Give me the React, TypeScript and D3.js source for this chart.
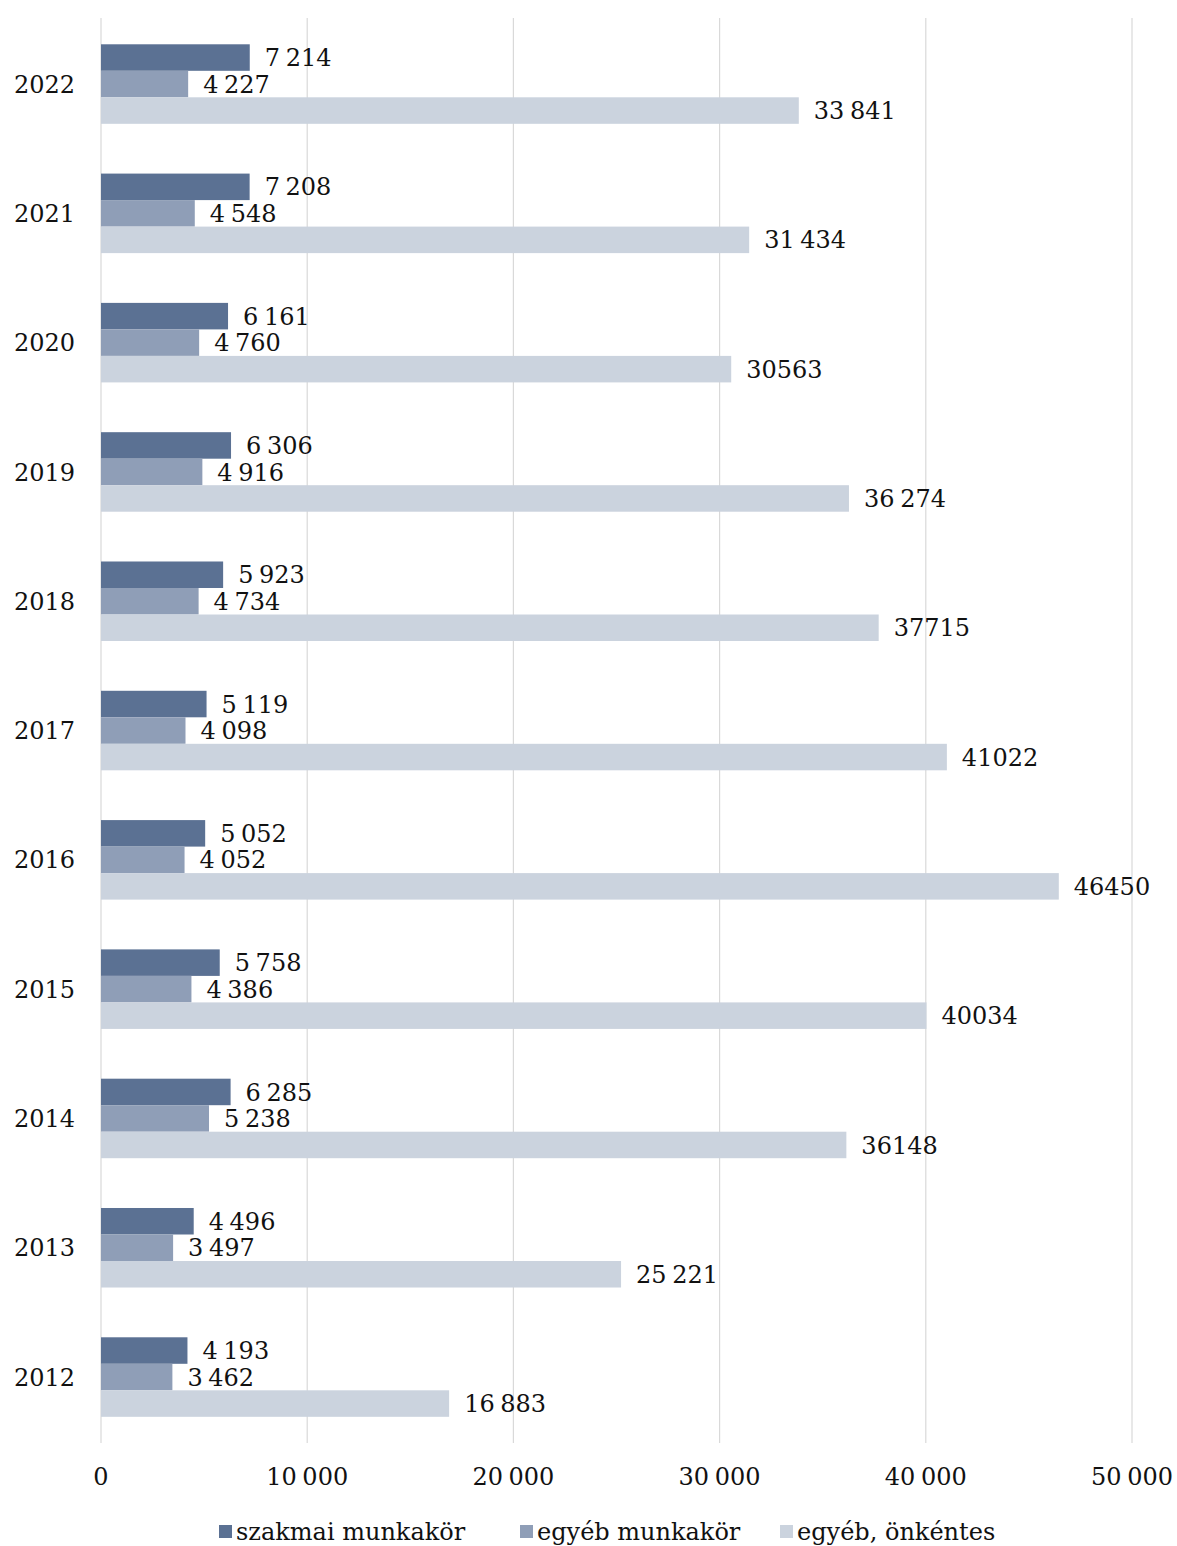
import React from "react";
import * as d3 from "d3";

const years = ["2022", "2021", "2020", "2019", "2018", "2017", "2016", "2015", "2014", "2013", "2012"];
const seriesNames = ["szakmai munkakör", "egyéb munkakör", "egyéb, önkéntes"];
const szakmai = [7214, 7208, 6161, 6306, 5923, 5119, 5052, 5758, 6285, 4496, 4193];
const egyeb = [4227, 4548, 4760, 4916, 4734, 4098, 4052, 4386, 5238, 3497, 3462];
const onkentes = [33841, 31434, 30563, 36274, 37715, 41022, 46450, 40034, 36148, 25221, 16883];
const szakmaiLabels = ["7 214", "7 208", "6 161", "6 306", "5 923", "5 119", "5 052", "5 758", "6 285", "4 496", "4 193"];
const egyebLabels = ["4 227", "4 548", "4 760", "4 916", "4 734", "4 098", "4 052", "4 386", "5 238", "3 497", "3 462"];
const onkentesLabels = ["33 841", "31 434", "30563", "36 274", "37715", "41022", "46450", "40034", "36148", "25 221", "16 883"];
const xTicks = [0, 10000, 20000, 30000, 40000, 50000];
const xTickLabels = ["0", "10 000", "20 000", "30 000", "40 000", "50 000"];
const colors = ["#5b7193", "#8f9eb7", "#cbd3de"];

const W = 1177;
const H = 1546;
const FONT = "'DejaVu Serif', serif";
const FS = 24;

export default function App() {
  const x = d3.scaleLinear().domain([0, 50000]).range([101, 1132]);
  const y0 = d3.scaleBand<string>().domain(years).range([19.4, 1441.7]).paddingInner(0.385).paddingOuter(0.1925);
  const y1 = d3.scaleBand<number>().domain([0, 1, 2]).range([0, y0.bandwidth()]).padding(0);
  const values = [szakmai, egyeb, onkentes];
  const labels = [szakmaiLabels, egyebLabels, onkentesLabels];
  const legendX = [219, 520, 780];

  return (
    <svg width={W} height={H} style={{ display: "block", position: "absolute", left: 0, top: 0 }} fontFamily={FONT}>
      <rect width={W} height={H} fill="#fff" />
      {xTicks.map((t) => (
        <line key={t} x1={x(t)} x2={x(t)} y1={18} y2={1443} stroke="#d9d9d9" strokeWidth={1.2} />
      ))}
      {years.map((yr, i) => (
        <g key={yr}>
          {values.map((vals, s) => {
            const yy = (y0(yr) as number) + (y1(s) as number);
            const h = y1.bandwidth();
            return (
              <g key={s}>
                <rect x={x(0)} y={yy} width={x(vals[i]) - x(0)} height={h} fill={colors[s]} />
                <text x={x(vals[i]) + 15} y={yy + h / 2} dy="0.36em" fontSize={FS} fill="#111" wordSpacing={-2}>
                  {labels[s][i]}
                </text>
              </g>
            );
          })}
          <text x={75} y={(y0(yr) as number) + y0.bandwidth() / 2} dy="0.36em" textAnchor="end" fontSize={FS} fill="#111">
            {yr}
          </text>
        </g>
      ))}
      {xTicks.map((t, i) => (
        <text key={t} x={x(t)} y={1476} dy="0.36em" textAnchor="middle" fontSize={FS} fill="#111" wordSpacing={-2}>
          {xTickLabels[i]}
        </text>
      ))}
      {seriesNames.map((n, i) => (
        <g key={n}>
          <rect x={legendX[i]} y={1525} width={13} height={13} fill={colors[i]} />
          <text x={legendX[i] + 17} y={1531} dy="0.36em" fontSize={FS} fill="#111">
            {n}
          </text>
        </g>
      ))}
    </svg>
  );
}
